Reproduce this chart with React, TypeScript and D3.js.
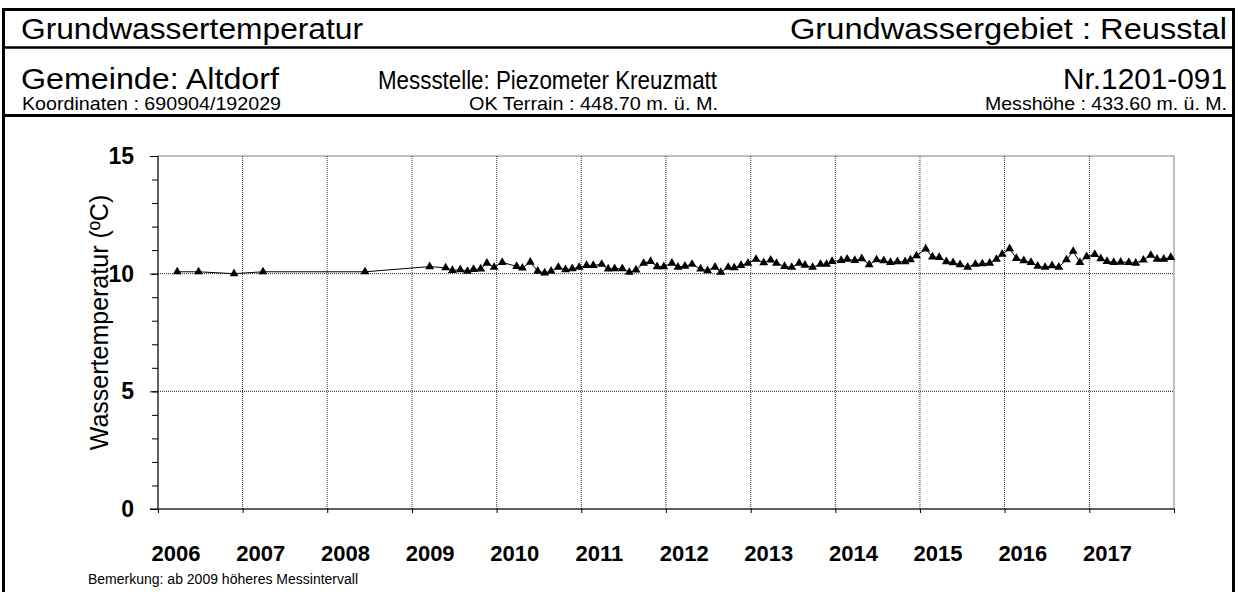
import React, { useEffect, useRef } from 'react';
import * as d3 from 'd3';

const dates = [
  '2006-03-25', '2006-06-25', '2006-11-25', '2007-03-30', '2008-06-12',
  '2009-03-18', '2009-05-26', '2009-06-24', '2009-07-28', '2009-08-28', '2009-09-23', '2009-10-24', '2009-11-20', '2009-12-21',
  '2010-01-25', '2010-03-28', '2010-04-22', '2010-05-26', '2010-06-27', '2010-07-27', '2010-08-24', '2010-09-24', '2010-10-25', '2010-11-23', '2010-12-23',
  '2011-01-24', '2011-02-22', '2011-03-30', '2011-04-27', '2011-05-25', '2011-06-27', '2011-07-27', '2011-08-25', '2011-09-27', '2011-10-27', '2011-11-24', '2011-12-23',
  '2012-01-27', '2012-02-22', '2012-03-23', '2012-04-23', '2012-05-30', '2012-06-29', '2012-07-31', '2012-08-25', '2012-09-26', '2012-10-22', '2012-11-20', '2012-12-20',
  '2013-01-24', '2013-02-26', '2013-03-28', '2013-04-22', '2013-05-27', '2013-06-27', '2013-07-29', '2013-08-23', '2013-09-25', '2013-10-29', '2013-11-24', '2013-12-18',
  '2014-01-26', '2014-02-21', '2014-03-26', '2014-04-25', '2014-05-27', '2014-06-28', '2014-07-29', '2014-08-27', '2014-09-26', '2014-10-29', '2014-11-21', '2014-12-17',
  '2015-01-26', '2015-02-24', '2015-03-25', '2015-04-25', '2015-05-24', '2015-06-23', '2015-07-26', '2015-08-28', '2015-09-27', '2015-10-29', '2015-11-27', '2015-12-22',
  '2016-01-23', '2016-02-21', '2016-03-24', '2016-04-24', '2016-05-23', '2016-06-24', '2016-07-24', '2016-08-22', '2016-09-24', '2016-10-23', '2016-11-21', '2016-12-20',
  '2017-01-24', '2017-02-19', '2017-03-18', '2017-04-16', '2017-05-16', '2017-06-20', '2017-07-20', '2017-08-22', '2017-09-23', '2017-10-20', '2017-11-18', '2017-12-18',
];

const temps = [
  10.08, 10.08, 10.0, 10.08, 10.08,
  10.3, 10.25, 10.14, 10.17, 10.1, 10.18, 10.2, 10.45, 10.27,
  10.48, 10.31, 10.24, 10.49, 10.11, 10.03, 10.11, 10.27, 10.17, 10.21, 10.27,
  10.35, 10.35, 10.4, 10.2, 10.21, 10.21, 10.06, 10.16, 10.44, 10.52, 10.3, 10.3,
  10.45, 10.28, 10.32, 10.4, 10.2, 10.13, 10.28, 10.06, 10.27, 10.25, 10.35, 10.45,
  10.61, 10.47, 10.58, 10.44, 10.31, 10.27, 10.45, 10.36, 10.27, 10.4, 10.4, 10.52,
  10.56, 10.62, 10.56, 10.64, 10.38, 10.59, 10.55, 10.48, 10.51, 10.51, 10.59, 10.76,
  11.05, 10.71, 10.69, 10.51, 10.47, 10.38, 10.28, 10.4, 10.42, 10.45, 10.61, 10.83,
  11.06, 10.65, 10.55, 10.48, 10.32, 10.27, 10.34, 10.28, 10.59, 10.95, 10.48, 10.72,
  10.82, 10.64, 10.52, 10.48, 10.49, 10.48, 10.45, 10.58, 10.78, 10.62, 10.62, 10.69,
];

const years = ['2006', '2007', '2008', '2009', '2010', '2011', '2012', '2013', '2014', '2015', '2016', '2017'];
const yMajor = [0, 5, 10, 15];
const yGrid = [5, 10];

const font = '"Liberation Sans", Arial, sans-serif';

const App = () => {
  const ref = useRef<SVGSVGElement>(null);

  useEffect(() => {
    const svg = d3.select(ref.current);
    svg.selectAll('*').remove();

    const left = 158, right = 1174, top = 156, bottom = 509;
    const parse = d3.timeParse('%Y-%m-%d');
    const data = dates.map((d, i) => ({ date: parse(d) as Date, t: temps[i] }));

    const x = d3.scaleTime()
      .domain([new Date(+years[0], 0, 1), new Date(+years[years.length - 1] + 1, 0, 1)])
      .range([left, right]);
    const y = d3.scaleLinear().domain([0, 15]).range([bottom, top]);

    // Rahmen und Kopfzeilen
    svg.append('rect')
      .attr('x', 3.5).attr('y', 9.5).attr('width', 1230).attr('height', 600)
      .attr('fill', 'none').attr('stroke', '#000').attr('stroke-width', 3);
    svg.append('line').attr('x1', 3).attr('x2', 1235).attr('y1', 47.5).attr('y2', 47.5)
      .attr('stroke', '#000').attr('stroke-width', 2.5);
    svg.append('line').attr('x1', 3).attr('x2', 1235).attr('y1', 115.5).attr('y2', 115.5)
      .attr('stroke', '#000').attr('stroke-width', 3);

    // Texte auf die Breite im Original bringen
    const txt = (s: string, tx: number, ty: number, size: number, anchor = 'start', len = 0) => {
      const t = svg.append('text').attr('x', tx).attr('y', ty).attr('font-size', size)
        .attr('font-family', font).attr('text-anchor', anchor).attr('fill', '#000').text(s);
      if (len) t.attr('textLength', len).attr('lengthAdjust', 'spacingAndGlyphs');
      return t;
    };

    txt('Grundwassertemperatur', 21, 39, 30, 'start', 342);
    txt('Grundwassergebiet : Reusstal', 1227, 39, 30, 'end', 437);
    txt('Gemeinde: Altdorf', 21, 89, 29, 'start', 258);
    txt('Messstelle: Piezometer Kreuzmatt', 378, 89, 26, 'start', 339);
    txt('Nr.1201-091', 1227, 89, 29, 'end', 164);
    txt('Koordinaten : 690904/192029', 22, 110, 19, 'start', 259);
    txt('OK Terrain : 448.70 m. ü. M.', 469, 110, 19, 'start', 249);
    txt('Messhöhe : 433.60 m. ü. M.', 1227, 110, 19, 'end', 242);

    // Plotbereich
    svg.append('rect')
      .attr('x', left).attr('y', top).attr('width', right - left).attr('height', bottom - top)
      .attr('fill', 'none').attr('stroke', '#808080').attr('stroke-width', 1);

    svg.append('g').selectAll('line').data(yGrid).join('line')
      .attr('x1', left).attr('x2', right)
      .attr('y1', (d) => y(d)).attr('y2', (d) => y(d))
      .attr('stroke', '#222').attr('stroke-width', 1).attr('stroke-dasharray', '1,1');

    svg.append('g').selectAll('line').data(x.ticks(d3.timeYear.every(1)).slice(1, -1)).join('line')
      .attr('x1', (d) => x(d)).attr('x2', (d) => x(d))
      .attr('y1', top).attr('y2', bottom)
      .attr('stroke', '#333').attr('stroke-width', 1).attr('stroke-dasharray', '1,1');

    // Y-Achse
    const yMinor = svg.append('g').attr('transform', `translate(${left},0)`)
      .call(d3.axisLeft(y).tickValues(d3.range(0, 16)).tickSize(6).tickFormat(() => ''));
    yMinor.select('.domain').remove();
    yMinor.selectAll('line').attr('stroke', '#000');

    const yAx = svg.append('g').attr('transform', `translate(${left},0)`)
      .call(d3.axisLeft(y).tickValues(yMajor).tickSize(8).tickPadding(16).tickFormat(d3.format('d')));
    yAx.select('.domain').attr('d', `M0,${top}V${bottom}`).attr('stroke', '#000');
    yAx.selectAll('line').attr('stroke', '#000');
    yAx.selectAll('text').attr('font-size', 23).attr('font-weight', 'bold')
      .attr('font-family', font).attr('fill', '#000');

    // X-Achse
    const xAx = svg.append('g').attr('transform', `translate(0,${bottom})`)
      .call(d3.axisBottom(x).ticks(d3.timeYear.every(1)).tickSize(4).tickFormat(() => ''));
    xAx.select('.domain').attr('d', `M${left - 8},0H${right + 1}`).attr('stroke', '#000');
    xAx.selectAll('line').attr('stroke', '#000');

    svg.append('g').selectAll('text').data(years).join('text')
      .attr('x', (d) => x(new Date(+d, 2, 20)))
      .attr('y', 561)
      .attr('text-anchor', 'middle')
      .attr('font-size', 22).attr('font-weight', 'bold').attr('font-family', font)
      .text((d) => d);

    svg.append('text')
      .attr('transform', `translate(108,${(top + bottom) / 2 - 10}) rotate(-90)`)
      .attr('text-anchor', 'middle').attr('font-size', 25).attr('font-family', font)
      .text('Wassertemperatur (ºC)');

    txt('Bemerkung: ab 2009 höheres Messintervall', 88, 584, 14);

    // Messreihe
    const line = d3.line<{ date: Date; t: number }>().x((d) => x(d.date)).y((d) => y(d.t));
    svg.append('path').datum(data).attr('d', line)
      .attr('fill', 'none').attr('stroke', '#000').attr('stroke-width', 1);

    svg.append('g').selectAll('path').data(data).join('path')
      .attr('transform', (d) => `translate(${x(d.date)},${y(d.t)})`)
      .attr('d', d3.symbol().type(d3.symbolTriangle).size(34)())
      .attr('fill', '#000');
  }, []);

  return (
    <svg ref={ref} width={1238} height={592}
      style={{ position: 'absolute', left: 0, top: 0, background: '#fff' }} />
  );
};

export default App;
